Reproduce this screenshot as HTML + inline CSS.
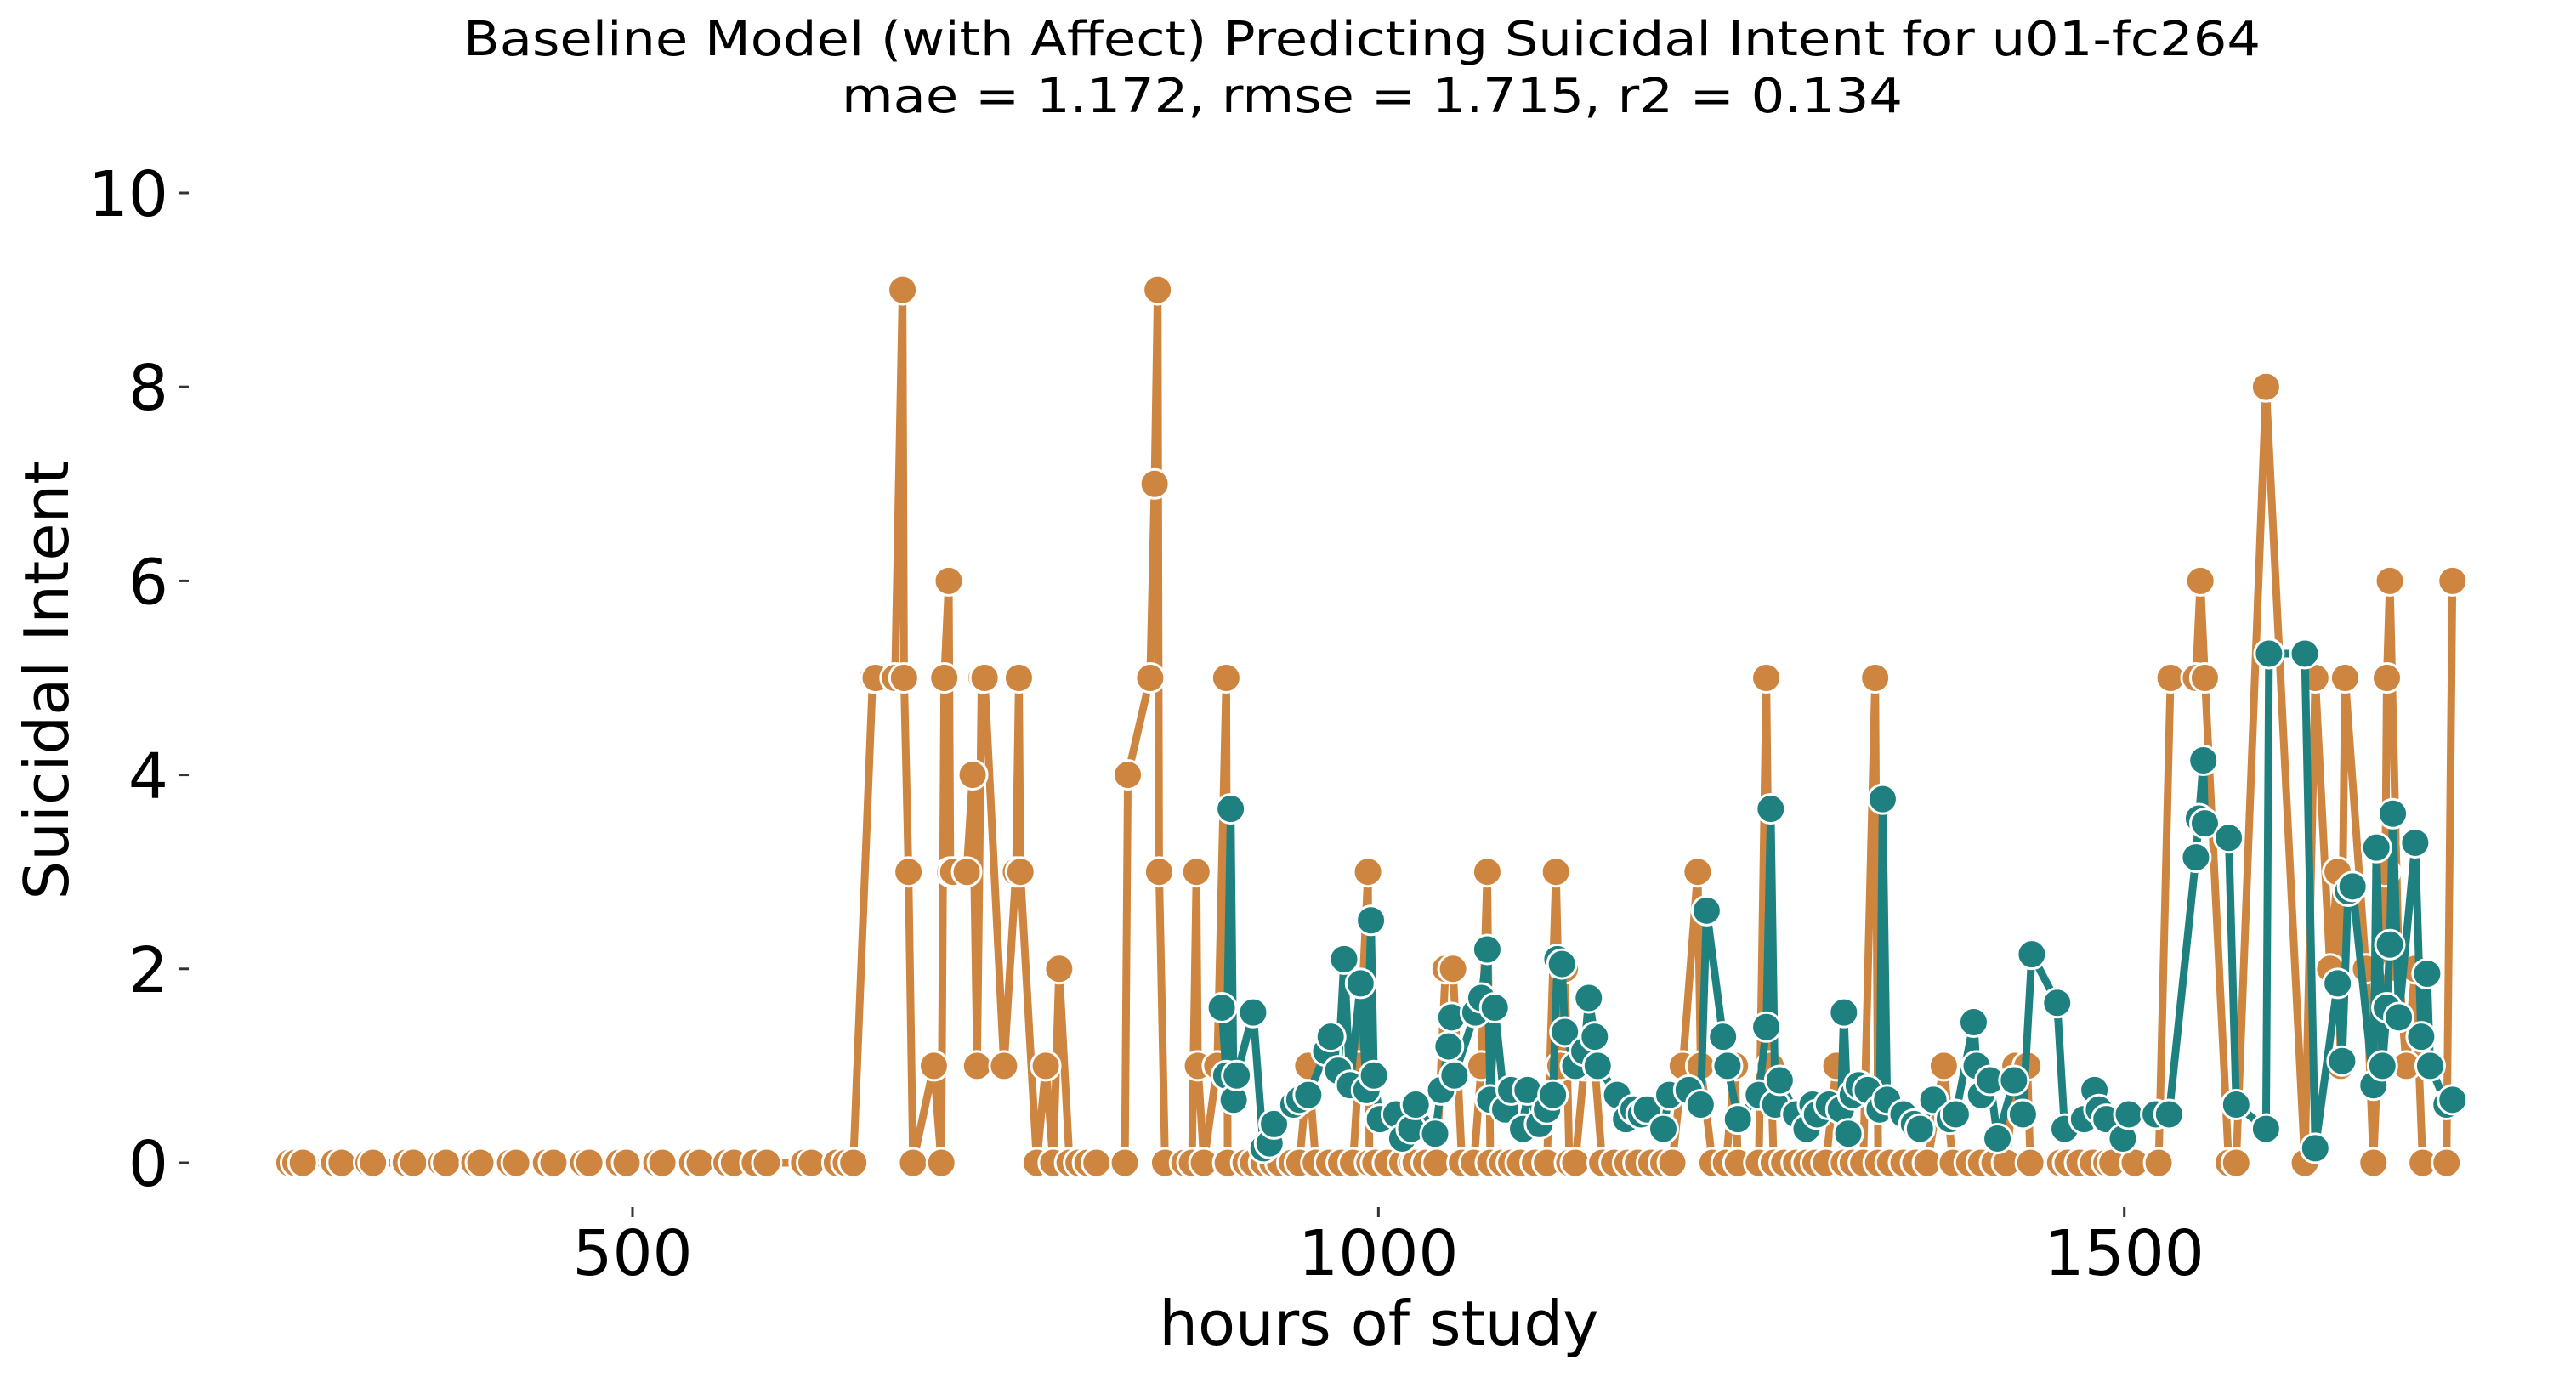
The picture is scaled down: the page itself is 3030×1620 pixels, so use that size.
<!DOCTYPE html>
<html><head><meta charset="utf-8"><style>
html,body{margin:0;padding:0;background:#fff}
svg{display:block}
text{font-family:"DejaVu Sans","Liberation Sans",sans-serif;fill:#000}
</style></head><body>
<svg id="chart" width="3030" height="1620" viewBox="0 0 3030 1620" xmlns="http://www.w3.org/2000/svg">
<text x="1602" y="65" font-size="56" text-anchor="middle" textLength="2114" lengthAdjust="spacingAndGlyphs">Baseline Model (with Affect) Predicting Suicidal Intent for u01-fc264</text>
<text x="1614" y="132" font-size="56" text-anchor="middle" textLength="1248" lengthAdjust="spacingAndGlyphs">mae = 1.172, rmse = 1.715, r2 = 0.134</text>
<text transform="translate(80,800) rotate(-90)" font-size="72" text-anchor="middle">Suicidal Intent</text>
<text x="1622" y="1582" font-size="72" text-anchor="middle">hours of study</text>
<g id="axes"></g>
<g id="marks"></g>
</svg>
<script>
const xTicks=[500,1000,1500];
const yTicks=[0,2,4,6,8,10];
const actualHours=[270,274,279,300,305,323,326,348,353,372,375,394,398,418,422,442,447,467,471,491,496,516,520,540,545,563,568,582,590,615,620,637,643,648,
661,663,676,681,682,685,688,702,707,709,712,713,715,724,728,731,734,736,749,757,759,760,771,777,782,786,793,799,805,811,830,832,847,850,852,853,857,870,875,878,879,883,892,898,899,911,916,923,929,934,942,947,953,958,967,975,983,987,993,994,998,1006,1016,1023,1025,1032,1039,1045,1050,1056,1064,1069,1073,1075,1083,1089,1095,1105,1113,1119,1122,1125,1128,1132,1138,1145,1150,1158,1167,1174,1183,1191,1197,1204,1214,1216,1224,1233,1239,1241,1255,1260,1263,1265,1272,1280,1287,1293,1300,1307,1312,1318,1325,1333,1335,1343,1352,1360,1368,1379,1385,1396,1404,1413,1421,1427,1435,1437,1457,1462,1470,1479,1488,1492,1507,1523,1531,1548,1551,1554,1570,1575,1595,1621,1628,1638,1643,1645,1648,1662,1667,1675,1676,1678,1684,1689,1695,1700,1716,1720];
const actualValues=[0,0,0,0,0,0,0,0,0,0,0,0,0,0,0,0,0,0,0,0,0,0,0,0,0,0,0,0,0,0,0,0,0,0,
5,5,5,9,5,3,0,1,0,5,6,3,3,3,4,1,5,5,1,3,5,3,0,1,0,2,0,0,0,0,0,4,5,7,9,3,0,0,0,3,1,0,1,5,0,0,0,0,0,0,0,0,1,0,0,0,0,1,3,0,0,0,0,0,0,0,0,2,2,0,0,1,3,0,0,0,0,0,0,3,1,2,0,0,1,1,0,0,0,0,0,0,0,1,3,1,0,0,1,0,0,5,1,0,0,0,0,0,0,1,0,0,0,5,0,0,0,0,0,1,0,0,0,0,0,1,1,0,0,0,0,0,0,0,0,0,5,5,6,5,0,0,8,0,5,2,3,1,5,2,0,3,5,6,2,1,2,0,0,6];
const predHours=[895,898,901,903,905,916,923,927,930,943,947,953,965,968,973,977,981,988,992,995,997,1001,1012,1016,1022,1025,1038,1042,1047,1049,1051,1065,1069,1073,1075,1078,1085,1089,1097,1100,1108,1113,1117,1120,1123,1125,1132,1138,1141,1145,1147,1160,1166,1171,1176,1180,1191,1195,1208,1216,1220,1231,1234,1241,1255,1260,1263,1266,1269,1280,1287,1291,1294,1302,1310,1312,1315,1318,1322,1328,1336,1338,1341,1352,1359,1363,1372,1383,1387,1399,1401,1404,1410,1415,1426,1432,1438,1455,1460,1473,1480,1483,1488,1499,1503,1521,1530,1548,1550,1553,1554,1570,1575,1595,1597,1621,1628,1643,1646,1650,1653,1667,1669,1673,1676,1678,1680,1684,1695,1699,1703,1705,1716,1720];
const predValues=[1.6,0.9,3.65,0.65,0.9,1.55,0.15,0.2,0.4,0.6,0.65,0.7,1.15,1.3,0.95,2.1,0.8,1.85,0.75,2.5,0.9,0.45,0.5,0.25,0.35,0.6,0.3,0.75,1.2,1.5,0.9,1.55,1.7,2.2,0.65,1.6,0.55,0.75,0.35,0.75,0.4,0.55,0.7,2.1,2.05,1.35,1.0,1.15,1.7,1.3,1.0,0.7,0.45,0.55,0.5,0.55,0.35,0.7,0.75,0.6,2.6,1.3,1.0,0.45,0.7,1.4,3.65,0.6,0.85,0.5,0.35,0.6,0.5,0.6,0.55,1.55,0.3,0.7,0.8,0.75,0.55,3.75,0.65,0.5,0.4,0.35,0.65,0.45,0.5,1.45,1.0,0.7,0.85,0.25,0.85,0.5,2.15,1.65,0.35,0.45,0.75,0.55,0.45,0.25,0.5,0.5,0.5,3.15,3.55,4.15,3.5,3.35,0.6,0.35,5.25,5.25,0.15,1.85,1.05,2.8,2.85,0.8,3.25,1.0,1.6,2.25,3.6,1.5,3.3,1.3,1.95,1.0,0.6,0.65];

const X0=744, XS=1.7547, Y0=1368, YS=114.1;
function xs(h){return X0+(h-500)*XS;}
function ys(v){return Y0-v*YS;}
const NS="http://www.w3.org/2000/svg";
const axes=document.getElementById('axes'), marks=document.getElementById('marks');
function mk(tag,attrs,parent){const e=document.createElementNS(NS,tag);for(const k in attrs)e.setAttribute(k,attrs[k]);parent.appendChild(e);return e;}

yTicks.forEach(v=>{
  const t=mk('line',{x1:210,x2:222,y1:ys(v),y2:ys(v),stroke:'#333','stroke-width':3},axes);
  
  
  const l=mk('text',{x:198,y:ys(v)+27,'font-size':74,'text-anchor':'end'},axes);
  l.textContent=v;
  
  
});
xTicks.forEach(h=>{
  const t=mk('line',{x1:xs(h),x2:xs(h),y1:1420,y2:1432,stroke:'#333','stroke-width':3},axes);
  
  
  const l=mk('text',{x:xs(h),y:1500,'font-size':74,'text-anchor':'middle'},axes);
  l.textContent=h;
  
  
});

function series(hours,vals,color,name){
  const g=mk('g',{},marks);
  
  
  const pts=hours.map((h,i)=>xs(h).toFixed(1)+','+ys(vals[i]).toFixed(1)).join(' ');
  const pl=mk('polyline',{points:pts,fill:'none',stroke:color,'stroke-width':9,'stroke-linejoin':'round'},g);
  
  
  hours.forEach((h,i)=>{
    const c=mk('circle',{cx:xs(h),cy:ys(vals[i]),r:17,fill:color,stroke:'#fff','stroke-width':3},g);
    
    
  });
}
series(actualHours,actualValues,'#CD853F','actual');
series(predHours,predValues,'#1F8080','predicted');
</script>
</body></html>
